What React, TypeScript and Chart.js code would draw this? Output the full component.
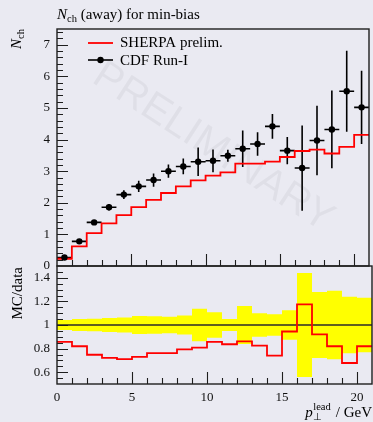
import React, { useEffect, useRef } from "react";
import { Chart, registerables } from "chart.js";
Chart.register(...registerables);

// ---------- data ----------
const binEdges = [0, 1, 2, 3, 4, 5, 6, 7, 8, 9, 10, 11, 12, 13, 14, 15, 16, 17, 18, 19, 20, 21];
const binCenters = [0.5, 1.5, 2.5, 3.5, 4.5, 5.5, 6.5, 7.5, 8.5, 9.5, 10.5, 11.5, 12.5, 13.5, 14.5, 15.5, 16.5, 17.5, 18.5, 19.5, 20.5];
const cdfValues = [0.27, 0.78, 1.38, 1.86, 2.26, 2.52, 2.72, 3.0, 3.15, 3.3, 3.33, 3.49, 3.71, 3.86, 4.42, 3.65, 3.1, 3.97, 4.32, 5.53, 5.02];
const cdfErrors = [0.02, 0.04, 0.07, 0.1, 0.14, 0.18, 0.21, 0.21, 0.25, 0.45, 0.36, 0.19, 0.58, 0.37, 0.39, 0.43, 1.35, 1.1, 1.23, 1.28, 1.16];
const sherpaValues = [0.23, 0.62, 1.04, 1.35, 1.61, 1.86, 2.09, 2.31, 2.52, 2.71, 2.86, 2.96, 3.24, 3.24, 3.3, 3.45, 3.64, 3.68, 3.56, 3.77, 4.15];
const ratioValues = [0.857, 0.82, 0.748, 0.722, 0.711, 0.73, 0.762, 0.762, 0.794, 0.808, 0.857, 0.837, 0.862, 0.825, 0.74, 0.945, 1.174, 0.92, 0.82, 0.678, 0.82];
const dataRelErr = [0.043, 0.05, 0.054, 0.06, 0.063, 0.077, 0.074, 0.069, 0.08, 0.137, 0.109, 0.05, 0.16, 0.099, 0.092, 0.124, 0.44, 0.28, 0.29, 0.24, 0.23];
const topYTicks = [0, 1, 2, 3, 4, 5, 6, 7];
const ratioYTicks = [0.6, 0.8, 1, 1.2, 1.4];
const xTicks = [0, 5, 10, 15, 20];
const ratioRef = 1;

// ---------- style ----------
const BG = "#eaeaf2";
const SERIF = "'Liberation Serif', 'Times New Roman', serif";
const SANS = "'Liberation Sans', Arial, sans-serif";
const RED = "#ff0000";
const INK = "#1e1e1e";

const stepPts = (vals: number[]) => [
  ...vals.map((v, i) => ({ x: binEdges[i], y: v })),
  { x: binEdges[vals.length], y: vals[vals.length - 1] },
];

type Piece = { t: string; font: string; dy: number };
function piecesWidth(ctx: CanvasRenderingContext2D, ps: Piece[]) {
  let w = 0;
  for (const p of ps) {
    ctx.font = p.font;
    w += ctx.measureText(p.t).width;
  }
  return w;
}
function drawPieces(ctx: CanvasRenderingContext2D, ps: Piece[], x: number, y: number) {
  let cx = x;
  ctx.textAlign = "left";
  ctx.textBaseline = "alphabetic";
  for (const p of ps) {
    ctx.font = p.font;
    ctx.fillText(p.t, cx, y + p.dy);
    cx += ctx.measureText(p.t).width;
  }
}

function drawTicksAndFrame(chart: any, yMajor: number[], yMin: number, yMax: number, yStep: number) {
  const { ctx, chartArea: ca, scales } = chart;
  const x = scales.x;
  const y = scales.y;
  ctx.save();
  ctx.strokeStyle = INK;
  ctx.lineWidth = 1.1;
  ctx.beginPath();
  const n = Math.round((yMax - yMin) / yStep);
  for (let k = 1; k < n; k++) {
    const v = yMin + k * yStep;
    const major = yMajor.some((m) => Math.abs(m - v) < 1e-6);
    const py = Math.round(y.getPixelForValue(v)) + 0.5;
    ctx.moveTo(ca.left, py);
    ctx.lineTo(ca.left + (major ? 11 : 6), py);
  }
  for (let v = 1; v < 21; v++) {
    const major = xTicks.includes(v);
    const px = Math.round(x.getPixelForValue(v)) + 0.5;
    ctx.moveTo(px, ca.bottom);
    ctx.lineTo(px, ca.bottom - (major ? 12 : 6));
  }
  ctx.stroke();
  ctx.lineWidth = 1.4;
  ctx.strokeRect(ca.left, ca.top, ca.right - ca.left, ca.bottom - ca.top);
  ctx.restore();
}

const topPlugin = {
  id: "topDecor",
  beforeDatasetsDraw(chart: any) {
    const { ctx, chartArea: ca, scales } = chart;
    const x = scales.x;
    const y = scales.y;
    ctx.save();
    // watermark
    ctx.translate((ca.left + ca.right) / 2, (ca.top + ca.bottom) / 2);
    ctx.rotate((33 * Math.PI) / 180);
    ctx.font = `41px ${SANS}`;
    ctx.fillStyle = "rgba(0,0,0,0.045)";
    ctx.textAlign = "center";
    ctx.textBaseline = "middle";
    ctx.fillText("PRELIMINARY", 0, 0);
    ctx.restore();
    // error bars
    ctx.save();
    ctx.strokeStyle = "#000";
    ctx.lineWidth = 1.6;
    ctx.beginPath();
    binCenters.forEach((xc, i) => {
      const px = x.getPixelForValue(xc);
      const py = y.getPixelForValue(cdfValues[i]);
      ctx.moveTo(px, y.getPixelForValue(cdfValues[i] + cdfErrors[i]));
      ctx.lineTo(px, y.getPixelForValue(cdfValues[i] - cdfErrors[i]));
      ctx.moveTo(x.getPixelForValue(binEdges[i]), py);
      ctx.lineTo(x.getPixelForValue(binEdges[i + 1]), py);
    });
    ctx.stroke();
    ctx.restore();
  },
  afterDraw(chart: any) {
    const { ctx, chartArea: ca } = chart;
    drawTicksAndFrame(chart, topYTicks, 0, 7.5, 0.2);
    ctx.save();
    ctx.fillStyle = "#000";
    // title
    drawPieces(
      ctx,
      [
        { t: "N", font: `italic 15px ${SERIF}`, dy: 0 },
        { t: "ch", font: `10.5px ${SERIF}`, dy: 3 },
        { t: " (away) for min-bias", font: `15px ${SERIF}`, dy: 0 },
      ],
      ca.left,
      ca.top - 10
    );
    // legend
    const l0 = ca.left + 31;
    const l1 = ca.left + 56;
    const tx = ca.left + 63;
    ctx.strokeStyle = RED;
    ctx.lineWidth = 1.8;
    ctx.beginPath();
    ctx.moveTo(l0, ca.top + 14);
    ctx.lineTo(l1, ca.top + 14);
    ctx.stroke();
    ctx.strokeStyle = "#000";
    ctx.lineWidth = 1.6;
    ctx.beginPath();
    ctx.moveTo(l0, ca.top + 31);
    ctx.lineTo(l1, ca.top + 31);
    ctx.stroke();
    ctx.beginPath();
    ctx.arc((l0 + l1) / 2, ca.top + 31, 3.2, 0, Math.PI * 2);
    ctx.fill();
    ctx.font = `15px ${SERIF}`;
    ctx.textAlign = "left";
    ctx.textBaseline = "alphabetic";
    ctx.fillText("SHERPA prelim.", tx, ca.top + 18);
    ctx.fillText("CDF Run-I", tx, ca.top + 35.5);
    // y label
    const yl: Piece[] = [
      { t: "N", font: `italic 15px ${SERIF}`, dy: 0 },
      { t: "ch", font: `10.5px ${SERIF}`, dy: 3 },
    ];
    const w = piecesWidth(ctx, yl);
    ctx.translate(21, ca.top);
    ctx.rotate(-Math.PI / 2);
    drawPieces(ctx, yl, -w, 0);
    ctx.restore();
  },
};

const botPlugin = {
  id: "botDecor",
  afterDraw(chart: any) {
    const { ctx, chartArea: ca } = chart;
    drawTicksAndFrame(chart, ratioYTicks, 0.5, 1.5, 0.05);
    ctx.save();
    ctx.fillStyle = "#000";
    // x label
    const gev = "/ GeV";
    ctx.font = `15px ${SERIF}`;
    const wg = ctx.measureText(gev).width;
    ctx.textAlign = "left";
    ctx.textBaseline = "alphabetic";
    const base = ca.bottom + 32.7;
    const gx = ca.right - wg;
    ctx.fillText(gev, gx, base);
    ctx.font = `10.5px ${SERIF}`;
    const wl = ctx.measureText("lead").width;
    const bx = gx - 5 - wl;
    ctx.fillText("lead", bx, base - 6.5);
    ctx.font = `10px ${SERIF}`;
    ctx.fillText("\u22a5", bx, base + 3.5);
    ctx.font = `italic 15px ${SERIF}`;
    const wp = ctx.measureText("p").width;
    ctx.fillText("p", bx - wp - 0.5, base);
    // y label
    ctx.font = `15px ${SERIF}`;
    ctx.translate(21.5, ca.top);
    ctx.rotate(-Math.PI / 2);
    ctx.textAlign = "right";
    ctx.fillText("MC/data", -1, 0);
    ctx.restore();
  },
};

const fmt = (v: number) => String(+Number(v).toFixed(2));

export default function App() {
  const topRef = useRef<HTMLCanvasElement>(null);
  const botRef = useRef<HTMLCanvasElement>(null);

  useEffect(() => {
    const tickFont = { family: SERIF, size: 13 };
    const topChart = new Chart(topRef.current!, {
      type: "scatter",
      data: {
        datasets: [
          {
            type: "scatter",
            label: "CDF Run-I",
            data: binCenters.map((x, i) => ({ x, y: cdfValues[i] })),
            pointRadius: 3.2,
            pointBackgroundColor: "#000",
            pointBorderWidth: 0,
            order: 1,
          } as any,
          {
            type: "line",
            label: "SHERPA prelim.",
            data: stepPts(sherpaValues),
            stepped: "before",
            borderColor: RED,
            borderWidth: 1.8,
            pointRadius: 0,
            fill: false,
            order: 2,
          } as any,
        ],
      },
      options: {
        animation: false,
        responsive: true,
        maintainAspectRatio: false,
        events: [],
        layout: { padding: { top: 29, left: 0, right: 1, bottom: 4 } },
        plugins: { legend: { display: false }, tooltip: { enabled: false } },
        scales: {
          x: { type: "linear", min: 0, max: 21, display: false },
          y: {
            type: "linear",
            min: 0,
            max: 7.5,
            afterBuildTicks: (s: any) => {
              s.ticks = topYTicks.map((v) => ({ value: v }));
            },
            afterFit: (s: any) => {
              s.width = 57;
              s.paddingTop = 0;
              s.paddingBottom = 0;
            },
            grid: { display: false, drawTicks: false },
            border: { display: false },
            ticks: { padding: 7, font: tickFont, color: "#111", callback: (v: any) => fmt(v) },
          },
        },
      } as any,
      plugins: [topPlugin],
    });

    const botChart = new Chart(botRef.current!, {
      type: "scatter",
      data: {
        datasets: [
          {
            type: "line",
            data: stepPts(dataRelErr.map((e) => ratioRef + e)),
            stepped: "before",
            borderColor: "rgba(0,0,0,0)",
            pointRadius: 0,
            fill: false,
            order: 5,
          } as any,
          {
            type: "line",
            data: stepPts(dataRelErr.map((e) => ratioRef - e)),
            stepped: "before",
            borderColor: "rgba(0,0,0,0)",
            backgroundColor: "#ffff00",
            pointRadius: 0,
            fill: "-1",
            order: 4,
          } as any,
          {
            type: "line",
            data: [
              { x: binEdges[0], y: ratioRef },
              { x: binEdges[binEdges.length - 1], y: ratioRef },
            ],
            borderColor: "#2a2a2a",
            borderWidth: 1.5,
            pointRadius: 0,
            fill: false,
            order: 2,
          } as any,
          {
            type: "line",
            data: stepPts(ratioValues),
            stepped: "before",
            borderColor: RED,
            borderWidth: 1.8,
            pointRadius: 0,
            fill: false,
            order: 1,
          } as any,
        ],
      },
      options: {
        animation: false,
        responsive: true,
        maintainAspectRatio: false,
        events: [],
        layout: { padding: { top: 4, left: 0, right: 1, bottom: 0 } },
        plugins: { legend: { display: false }, tooltip: { enabled: false } },
        scales: {
          x: {
            type: "linear",
            min: 0,
            max: 21,
            afterBuildTicks: (s: any) => {
              s.ticks = xTicks.map((v) => ({ value: v }));
            },
            afterFit: (s: any) => {
              s.height = 38;
              s.paddingLeft = 0;
              s.paddingRight = 0;
            },
            grid: { display: false, drawTicks: false },
            border: { display: false },
            ticks: { padding: 6, font: tickFont, color: "#111", maxRotation: 0, callback: (v: any) => fmt(v) },
          },
          y: {
            type: "linear",
            min: 0.5,
            max: 1.5,
            afterBuildTicks: (s: any) => {
              s.ticks = ratioYTicks.map((v) => ({ value: v }));
            },
            afterFit: (s: any) => {
              s.width = 57;
              s.paddingTop = 0;
              s.paddingBottom = 0;
            },
            grid: { display: false, drawTicks: false },
            border: { display: false },
            ticks: { padding: 7, font: tickFont, color: "#111", callback: (v: any) => fmt(v) },
          },
        },
      } as any,
      plugins: [botPlugin],
    });

    return () => {
      topChart.destroy();
      botChart.destroy();
    };
  }, []);

  return (
    <div style={{ position: "fixed", left: 0, top: 0, width: 373, height: 422, background: BG, overflow: "hidden" }}>
      <div style={{ position: "absolute", left: 0, top: 0, width: 373, height: 270 }}>
        <canvas ref={topRef} />
      </div>
      <div style={{ position: "absolute", left: 0, top: 262, width: 373, height: 160 }}>
        <canvas ref={botRef} />
      </div>
    </div>
  );
}
